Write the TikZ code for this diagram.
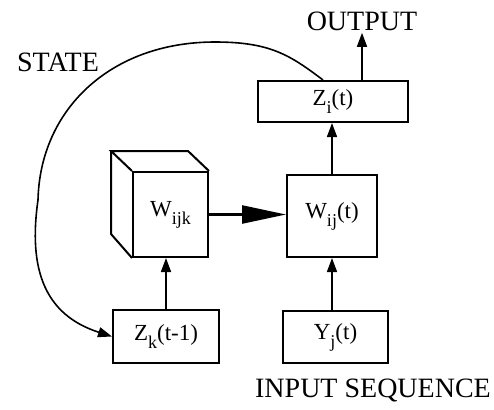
\documentclass[tikz,border=0pt]{standalone}
\usepackage{fontspec}
\setmainfont{Liberation Serif}
\usetikzlibrary{arrows.meta,calc}
\newcommand{\lo}[1]{\raisebox{-4pt}{\fontsize{9}{10}\selectfont #1}}
\tikzset{
  blk/.style={draw,line width=1pt,inner sep=0pt,font=\fontsize{11.5}{13}\selectfont},
  lbl/.style={inner sep=1pt,font=\fontsize{14}{16}\selectfont},
  arr/.style={line width=0.8pt,-{Triangle[length=7pt,width=5pt]}},
}
\begin{document}
\begin{tikzpicture}[x=0.5pt,y=-0.5pt]
\useasboundingbox (0,0) rectangle (494,409);
% 方框
\node[blk,minimum width=75pt,minimum height=20.5pt] (zi) at (333,101.5) {Z\lo{i}(t)};
\node[blk,minimum width=45pt,minimum height=41pt] (wij) at (332,216) {W\lo{ij}(t)};
\node[blk,minimum width=37.5pt,minimum height=42.5pt] (wijk) at (170.5,214.5) {W\lo{ijk}};
\node[blk,minimum width=53pt,minimum height=26.5pt] (zk) at (166,336.5) {Z\lo{k}(t-1)};
\node[blk,minimum width=52.5pt,minimum height=26pt] (yj) at (335.5,337) {Y\lo{j}(t)};
% 立方体
\draw[line width=1pt] (wijk.north west) -- ++(-21,-20) coordinate (bk) -- ($(wijk.north east)+(-21,-20)$) -- (wijk.north east);
\draw[line width=1pt] (bk) -- ++(0,83) -- (wijk.south west);
% 文字
\node[lbl] (out) at (362,21) {OUTPUT};
\node[lbl] (state) at (58,62) {STATE};
\node[lbl] (inseq) at (373,390) {INPUT SEQUENCE};
% 箭头
\draw[line width=1.2pt,-{Triangle[length=22pt,width=9pt]}] (wijk.east) -- (wijk.east -| wij.west);
\draw[arr] (zk.north) -- (zk.north |- wijk.south);
\draw[arr] (wij.south |- yj.north) -- (wij.south);
\draw[arr] (wij.north) -- (wij.north |- zi.south);
\draw[arr] (zi.north -| out.south) -- (out.south);
\draw[arr] ($(zi.north)+(-10,0)$) .. controls (290,55) and (270,42) .. (215,42)
  .. controls (110,42) and (40,110) .. (38,200)
  .. controls (28,270) and (45,315) .. (zk.west);
\end{tikzpicture}
\end{document}
